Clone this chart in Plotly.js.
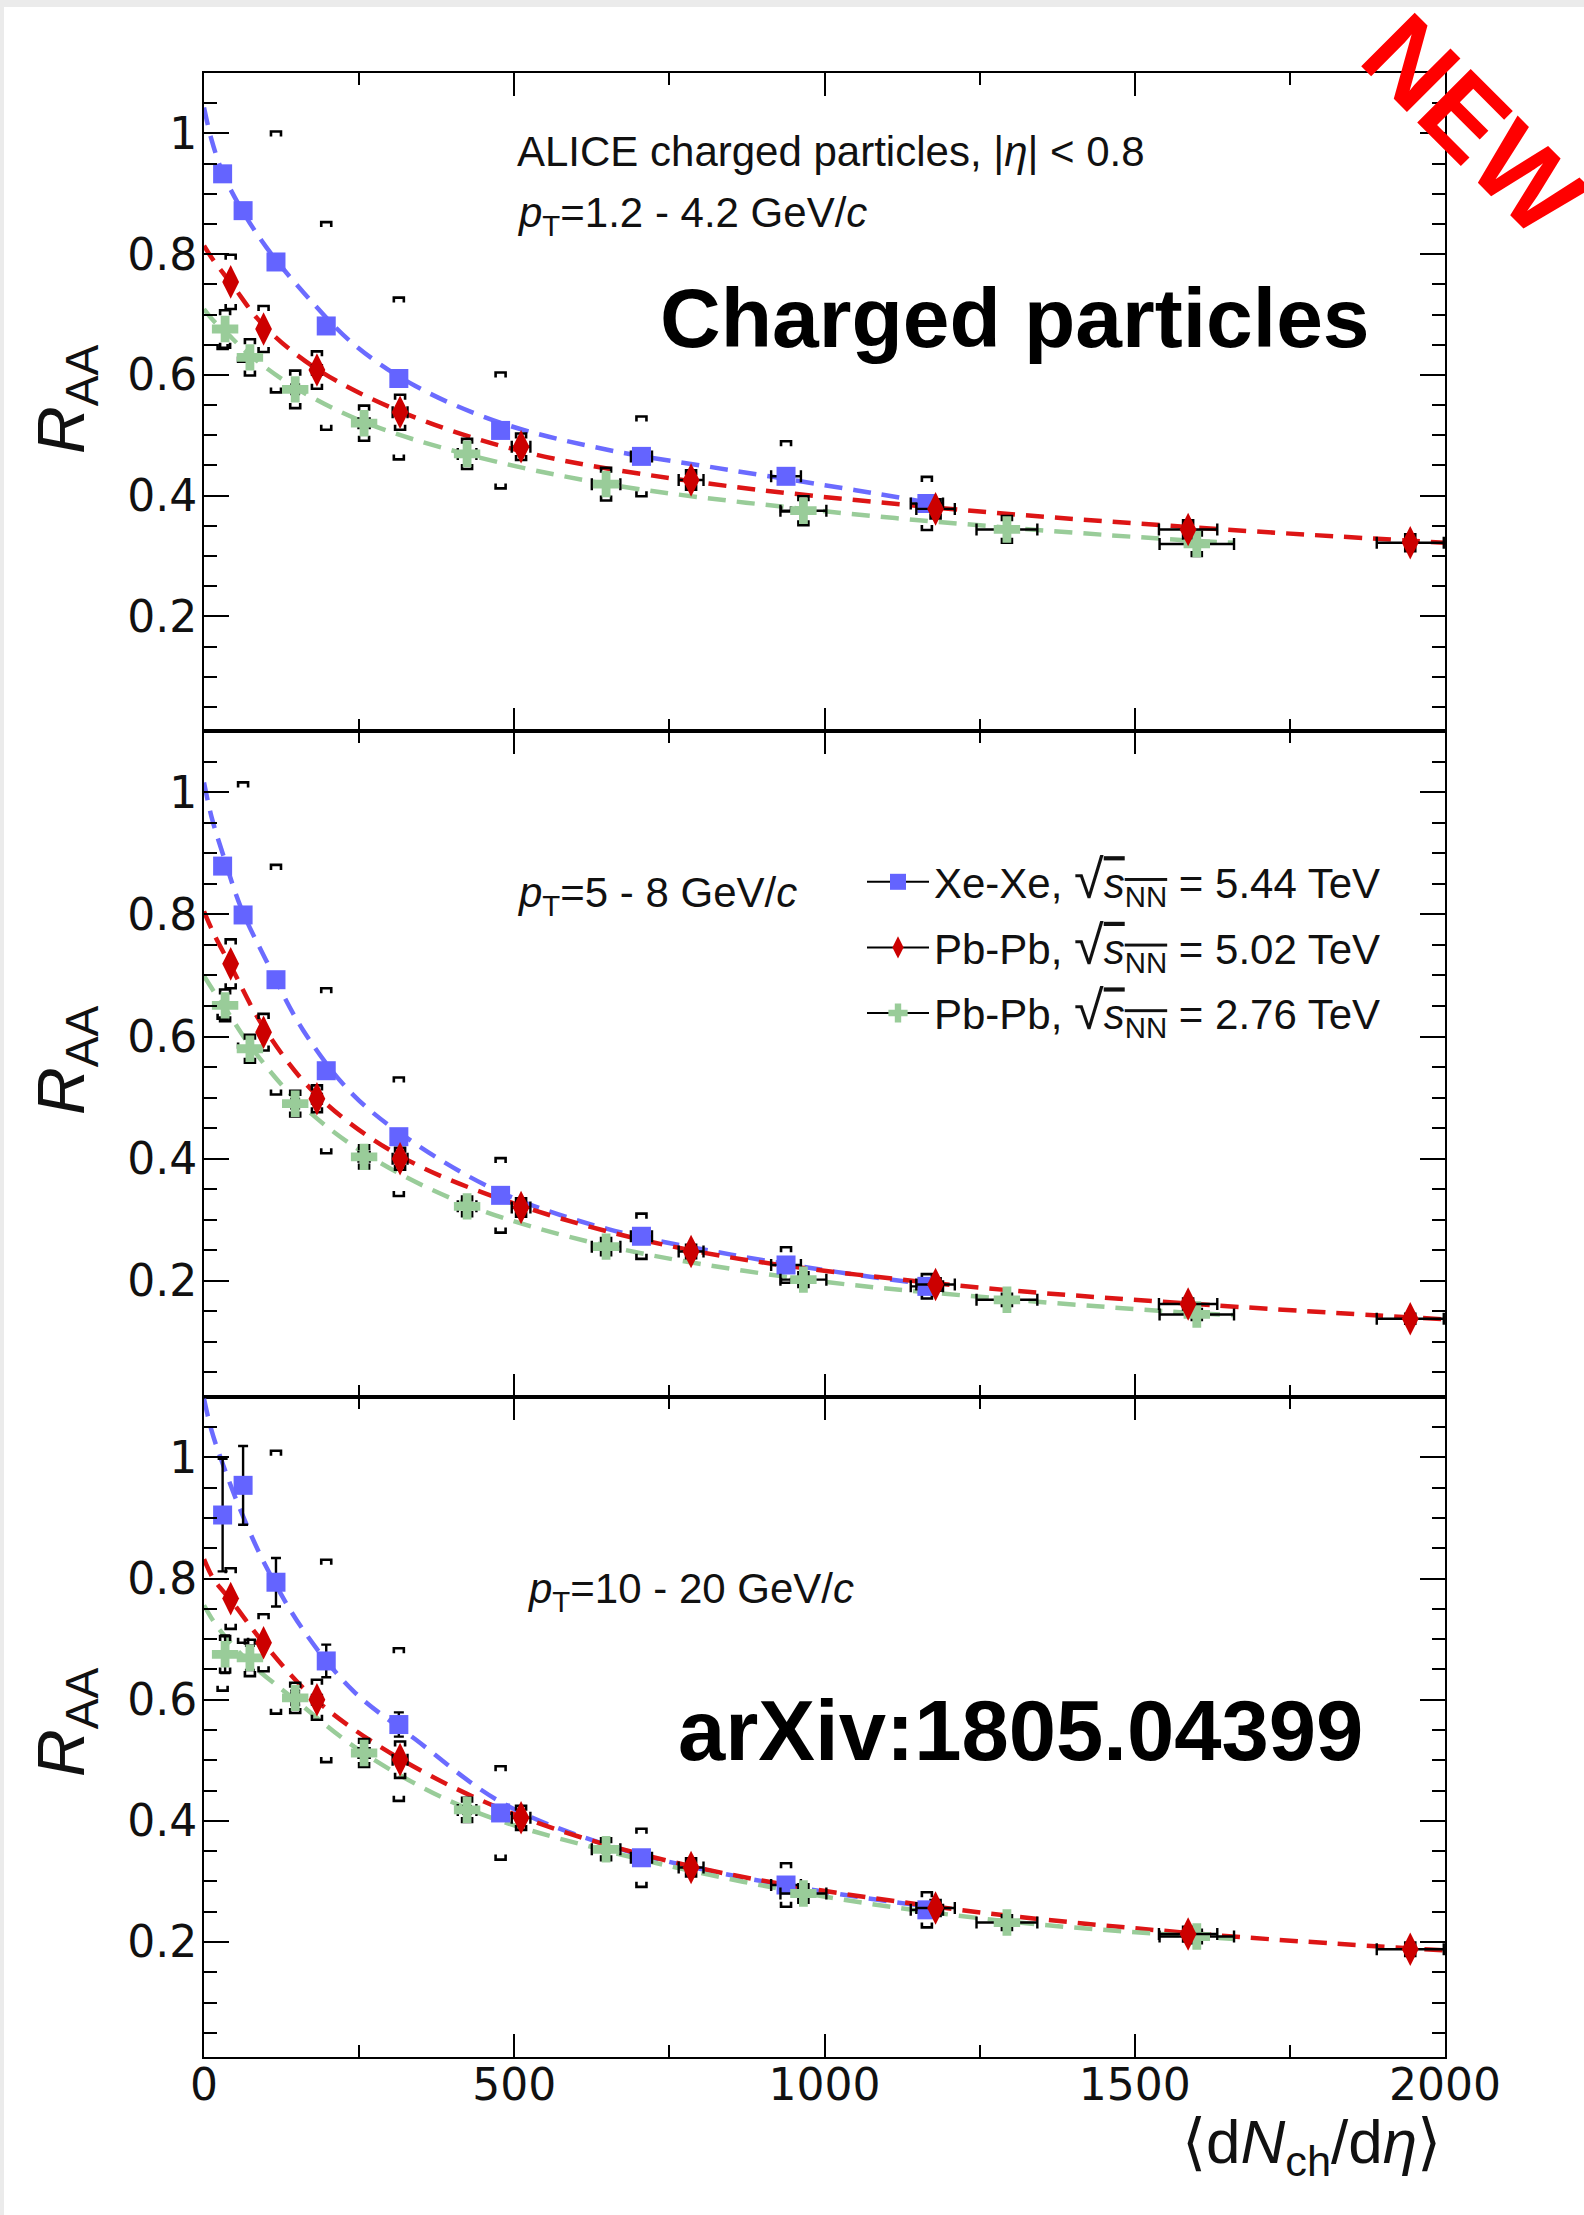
<!DOCTYPE html>
<html><head><meta charset="utf-8">
<script src="https://cdn.plot.ly/plotly-3.0.1.min.js"></script>
<style>
html,body{margin:0;padding:0;background:#ebebeb;width:1584px;height:2215px;overflow:hidden}
#plot{position:absolute;left:4px;top:7px;width:1580px;height:2208px;background:#fff}
</style></head><body><div id="plot"></div>
<script>
// ---------- data ----------
const xXe   = [30, 63, 116, 197, 314, 478, 705, 938, 1165];
const xPb5  = [43, 96, 182, 316, 511, 785, 1179, 1586, 1944];
const xPb2  = [34, 74, 147, 258, 424, 648, 966, 1294, 1600];
const exXe  = [1.5, 2, 3, 5, 8, 11, 17, 24, 26];
const exPb5 = [3.4, 5.8, 8, 12, 15, 20, 31, 47, 54];
const exPb2 = [2, 4, 6, 9, 15, 23, 37, 49, 60];

// panel 1: pT = 1.2 - 4.2 GeV/c
const raaXe1  = [0.933, 0.872, 0.787, 0.681, 0.594, 0.508, 0.465, 0.432, 0.387];
const sysXe1  = [0.29, 0.25, 0.216, 0.172, 0.134, 0.096, 0.066, 0.058, 0.044];
const raaPb5_1 = [0.754, 0.676, 0.608, 0.538, 0.481, 0.426, 0.378, 0.344, 0.322];
const sysPb5_1 = [0.045, 0.038, 0.031, 0.029, 0.022, 0.016, 0.016, 0.015, 0.014];
const raaPb2_1 = [0.676, 0.629, 0.576, 0.520, 0.469, 0.419, 0.375, 0.344, 0.320];
const sysPb2_1 = [0.031, 0.030, 0.031, 0.029, 0.025, 0.027, 0.024, 0.022, 0.020];

// panel 2: pT = 5 - 8 GeV/c
const raaXe2  = [0.879, 0.799, 0.693, 0.544, 0.436, 0.340, 0.273, 0.226, 0.191];
const sysXe2  = [0.25, 0.217, 0.188, 0.135, 0.097, 0.061, 0.037, 0.029, 0.020];
const raaPb5_2 = [0.719, 0.607, 0.498, 0.400, 0.320, 0.248, 0.194, 0.162, 0.138];
const sysPb5_2 = [0.040, 0.030, 0.022, 0.018, 0.015, 0.011, 0.010, 0.009, 0.008];
const raaPb2_2 = [0.651, 0.580, 0.490, 0.403, 0.322, 0.256, 0.202, 0.169, 0.145];
const sysPb2_2 = [0.026, 0.023, 0.021, 0.019, 0.016, 0.014, 0.012, 0.010, 0.009];

// panel 3: pT = 10 - 20 GeV/c
const raaXe3  = [0.905, 0.954, 0.794, 0.664, 0.559, 0.413, 0.339, 0.294, 0.253];
const statXe3 = [0.093, 0.065, 0.040, 0.027, 0.020, 0.012, 0.008, 0.007, 0.006];
const sysXe3  = [0.29, 0.26, 0.217, 0.167, 0.126, 0.077, 0.048, 0.036, 0.029];
const raaPb5_3 = [0.767, 0.694, 0.600, 0.501, 0.405, 0.323, 0.256, 0.213, 0.188];
const sysPb5_3 = [0.050, 0.047, 0.033, 0.030, 0.020, 0.015, 0.013, 0.012, 0.011];
const raaPb2_3 = [0.675, 0.669, 0.603, 0.512, 0.418, 0.353, 0.280, 0.232, 0.209];
const statPb2_3 = [0.031, 0.020, 0.012, 0.008, 0.006, 0.005, 0.004, 0.004, 0.004];
const sysPb2_3 = [0.030, 0.030, 0.025, 0.023, 0.020, 0.018, 0.015, 0.012, 0.011];

// dashed fit curves
const fitXeX  = [0, 12, 30, 60, 100, 160, 240, 340, 480, 650, 850, 1050, 1170];
const fitPb5X = [0, 15, 45, 95, 180, 315, 510, 785, 1180, 1585, 2000];
const fitPb2X = [0, 15, 35, 75, 150, 260, 425, 650, 965, 1295, 1600, 1660];
const fitXe1  = [1.043, 0.99, 0.935, 0.875, 0.812, 0.737, 0.652, 0.582, 0.520, 0.476, 0.442, 0.409, 0.388];
const fitPb5_1 = [0.814, 0.79, 0.75, 0.683, 0.611, 0.540, 0.474, 0.424, 0.380, 0.348, 0.322];
const fitPb2_1 = [0.709, 0.69, 0.671, 0.632, 0.577, 0.521, 0.468, 0.419, 0.378, 0.347, 0.325, 0.322];
const fitXe2  = [1.016, 0.96, 0.90, 0.81, 0.725, 0.61, 0.505, 0.425, 0.344, 0.285, 0.243, 0.21, 0.194];
const fitPb5_2 = [0.805, 0.77, 0.712, 0.617, 0.506, 0.405, 0.323, 0.250, 0.196, 0.163, 0.137];
const fitPb2_2 = [0.699, 0.675, 0.645, 0.584, 0.495, 0.408, 0.324, 0.257, 0.203, 0.170, 0.147, 0.144];
const fitXe3  = [1.097, 1.045, 0.99, 0.91, 0.82, 0.715, 0.615, 0.535, 0.43, 0.36, 0.31, 0.275, 0.258];
const fitPb5_3 = [0.832, 0.80, 0.762, 0.695, 0.60, 0.503, 0.407, 0.325, 0.258, 0.215, 0.186];
const fitPb2_3 = [0.756, 0.73, 0.703, 0.66, 0.597, 0.51, 0.42, 0.35, 0.281, 0.234, 0.209, 0.205];

const sqrtS = '<span style="font-size:54px">√</span><span style="text-decoration:overline"><i>s</i><sub>NN</sub></span>';
const seriesNames = [
  'Xe-Xe, ' + sqrtS + ' = 5.44 TeV',
  'Pb-Pb, ' + sqrtS + ' = 5.02 TeV',
  'Pb-Pb, ' + sqrtS + ' = 2.76 TeV'
];
const ptLabels = [
  '<i>p</i><sub>T</sub>=1.2 - 4.2 GeV/<i>c</i>',
  '<i>p</i><sub>T</sub>=5 - 8 GeV/<i>c</i>',
  '<i>p</i><sub>T</sub>=10 - 20 GeV/<i>c</i>'
];

// ---------- styling / geometry ----------
const W = 1580, H = 2208;           // div size
const ML = 200, MR = 139, MT = 66, MB = 158;
const PW = W - ML - MR, PH = H - MT - MB;
const XR = [0, 2000], YR = [0.01, 1.1];
const dom = [[0.6683, 1], [0.3327, 0.6683], [0, 0.3327]];
// page-pixel -> paper helpers (page = div + offset 4,7)
const px = p => (p - 4 - ML) / PW;
const py = p => (H - MB - (p - 7)) / PH;

const styles = [
  {x: xXe,  ex: exXe,  color: '#6464ff', lcolor: '#6b6bff', symbol: 'square', size: 19, fitX: fitXeX},
  {x: xPb5, ex: exPb5, color: '#cc0000', lcolor: '#dd1515', symbol: 'diamond-tall', size: 24, fitX: fitPb5X},
  {x: xPb2, ex: exPb2, color: '#99cc99', lcolor: '#99cc99', symbol: 'cross', size: 22, fitX: fitPb2X}
];
const panels = [
  {raa: [raaXe1, raaPb5_1, raaPb2_1], sys: [sysXe1, sysPb5_1, sysPb2_1], stat: [null, null, null], fit: [fitXe1, fitPb5_1, fitPb2_1]},
  {raa: [raaXe2, raaPb5_2, raaPb2_2], sys: [sysXe2, sysPb5_2, sysPb2_2], stat: [null, null, null], fit: [fitXe2, fitPb5_2, fitPb2_2]},
  {raa: [raaXe3, raaPb5_3, raaPb2_3], sys: [sysXe3, sysPb5_3, sysPb2_3], stat: [statXe3, null, statPb2_3], fit: [fitXe3, fitPb5_3, fitPb2_3]}
];

const BW = 5 * (XR[1] - XR[0]) / PW;       // bracket half width (data units)
const BH = 5 * (YR[1] - YR[0]) / (PH / 3); // bracket leg (data units)

function brackets(xs, ys, sys, xa, ya) {
  const bx = [], by = [];
  for (let i = 0; i < xs.length; i++) {
    const x = xs[i], top = ys[i] + sys[i], bot = ys[i] - sys[i];
    bx.push(x - BW, x - BW, x + BW, x + BW, null, x - BW, x - BW, x + BW, x + BW, null);
    by.push(top - BH, top, top, top - BH, null, bot + BH, bot, bot, bot + BH, null);
  }
  return {type: 'scatter', mode: 'lines', x: bx, y: by, xaxis: xa, yaxis: ya,
    line: {color: '#000', width: 2.6}, hoverinfo: 'skip', showlegend: false, connectgaps: false};
}

const traces = [];
panels.forEach((p, k) => {
  const xa = k === 0 ? 'x' : 'x' + (k + 1);
  const ya = k === 0 ? 'y' : 'y' + (k + 1);
  styles.forEach((s, j) => {
    traces.push({type: 'scatter', mode: 'lines', x: s.fitX, y: p.fit[j], xaxis: xa, yaxis: ya,
      line: {color: s.lcolor, width: 4.5, dash: '18px,11px', shape: 'spline', smoothing: 1},
      hoverinfo: 'skip', showlegend: false});
  });
  styles.forEach((s, j) => traces.push(brackets(s.x, p.raa[j], p.sys[j], xa, ya)));
  [0, 2, 1].forEach(j => {
    const s = styles[j];
    const t = {type: 'scatter', mode: 'markers', x: s.x, y: p.raa[j], xaxis: xa, yaxis: ya,
      marker: {color: s.color, symbol: s.symbol, size: s.size, line: {width: 0}},
      error_x: {type: 'data', array: s.ex, color: '#000', thickness: 2.4, width: 6},
      showlegend: false, cliponaxis: true};
    if (p.stat[j]) t.error_y = {type: 'data', array: p.stat[j], color: '#000', thickness: 2.4, width: 5};
    traces.push(t);
  });
});
// legend entries
styles.forEach((s, j) => {
  traces.push({type: 'scatter', mode: 'lines+markers', x: [null], y: [null], xaxis: 'x2', yaxis: 'y2',
    name: seriesNames[j], legendgroup: 'g' + j,
    line: {color: '#000', width: 2},
    marker: {color: s.color, symbol: s.symbol, size: 16, line: {width: 0}}, showlegend: true});
});

const tickFont = {family: 'DejaVu Sans, sans-serif', size: 44, color: '#111'};
function xAxis(k) {
  return {domain: [0, 1], range: XR, anchor: k === 0 ? 'y' : 'y' + (k + 1),
    showline: true, linewidth: 2, linecolor: '#000', mirror: 'ticks',
    ticks: 'inside', ticklen: 23, tickwidth: 2, tickcolor: '#000', tick0: 0, dtick: 500,
    minor: {dtick: 250, ticks: 'inside', ticklen: 12, tickwidth: 2, tickcolor: '#000', showgrid: false},
    showgrid: false, zeroline: false, showticklabels: k === 2, tickfont: tickFont,
    ticklabelstandoff: -12, fixedrange: true};
}
function yAxis(k) {
  return {domain: dom[k], range: YR, anchor: k === 0 ? 'x' : 'x' + (k + 1),
    showline: true, linewidth: 2, linecolor: '#000', mirror: 'ticks',
    ticks: 'inside', ticklen: 25, tickwidth: 2, tickcolor: '#000', tick0: 0, dtick: 0.2,
    minor: {dtick: 0.05, ticks: 'inside', ticklen: 13, tickwidth: 2, tickcolor: '#000', showgrid: false},
    showgrid: false, zeroline: false, tickfont: tickFont, ticklabelstandoff: -4, fixedrange: true};
}

const txt = {family: 'Liberation Sans, Arial, sans-serif', size: 42, color: '#111'};
const annotations = [
  {text: 'ALICE charged particles, |<i>η</i>| < 0.8', x: px(515), y: py(151), font: txt},
  {text: ptLabels[0], x: px(515), y: py(216), font: txt},
  {text: '<b>Charged particles</b>', x: px(658), y: py(318), font: {family: 'Liberation Sans, Arial', size: 84, color: '#000'}},
  {text: ptLabels[1], x: px(515), y: py(895), font: txt},
  {text: ptLabels[2], x: px(525), y: py(1591), font: txt},
  {text: '<b>arXiv:1805.04399</b>', x: px(676), y: py(1730), font: {family: 'Liberation Sans, Arial', size: 85, color: '#000'}},
  {text: '⟨d<i>N</i><sub>ch</sub>/d<i>η</i>⟩', x: px(1443), y: py(2146), xanchor: 'right',
    font: {family: 'Liberation Sans, Arial', size: 62, color: '#111'}},
  {text: '<b>NEW</b>', x: px(1474), y: py(124), xanchor: 'center', textangle: 45,
    font: {family: 'Liberation Sans, Arial', size: 110, color: '#ff0000'}}
].map(a => Object.assign({xref: 'paper', yref: 'paper', xanchor: 'left', yanchor: 'middle', showarrow: false}, a));
[400, 1061, 1723].forEach(c => annotations.push({text: '<i>R</i><sub>AA</sub>', xref: 'paper', yref: 'paper',
  x: px(66), y: py(c), xanchor: 'center', yanchor: 'middle', textangle: -90, showarrow: false,
  font: {family: 'Liberation Sans, Arial', size: 66, color: '#111'}}));

const layout = {
  width: W, height: H, margin: {l: ML, r: MR, t: MT, b: MB},
  paper_bgcolor: '#fff', plot_bgcolor: '#fff', showlegend: true,
  xaxis: xAxis(0), xaxis2: xAxis(1), xaxis3: xAxis(2),
  yaxis: yAxis(0), yaxis2: yAxis(1), yaxis3: yAxis(2),
  legend: {x: px(862), y: py(848), xanchor: 'left', yanchor: 'top', bgcolor: 'rgba(0,0,0,0)',
    borderwidth: 0, font: {family: 'Liberation Sans, Arial', size: 42, color: '#111'},
    itemwidth: 62, tracegroupgap: 8, traceorder: 'grouped'},
  annotations: annotations
};
Plotly.newPlot('plot', traces, layout, {staticPlot: true, displayModeBar: false});
</script></body></html>
